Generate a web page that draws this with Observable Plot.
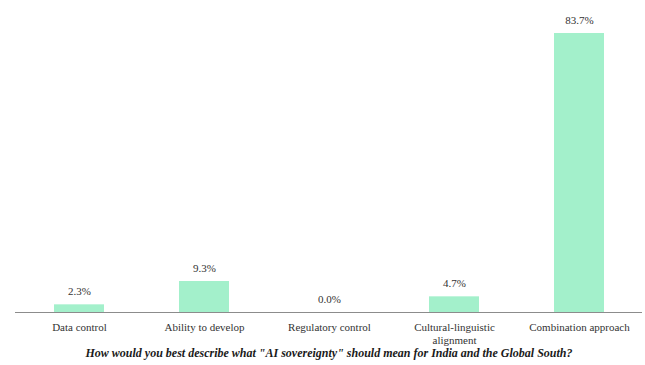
<!DOCTYPE html>
<html>
<head>
<meta charset="utf-8">
<script src="https://cdn.jsdelivr.net/npm/d3@7"></script>
<script src="https://cdn.jsdelivr.net/npm/@observablehq/plot@0.6"></script>
<style>
  html, body { margin: 0; padding: 0; background: #fff; }
  #chart svg { display: block; font-family: "Liberation Serif", "Times New Roman", serif; }
</style>
</head>
<body>
<div id="chart"></div>
<script>
// Survey responses: share of respondents per definition of "AI sovereignty"
const categories = [
  "Data control",
  "Ability to develop",
  "Regulatory control",
  "Cultural-linguistic alignment",
  "Combination approach"
];
const tickLabels = [
  "Data control",
  "Ability to develop",
  "Regulatory control",
  "Cultural-linguistic\nalignment",
  "Combination approach"
];
const shares = [2.3, 9.3, 0.0, 4.7, 83.7];
const question = "How would you best describe what \"AI sovereignty\" should mean for India and the Global South?";

const rows = categories.map((c, i) => ({category: c, share: shares[i]}));
const labelOf = new Map(categories.map((c, i) => [c, tickLabels[i]]));

const serif = "Liberation Serif, Times New Roman, serif";
const barColor = "#a3f0cb";
const ink = "#333333";

const chart = Plot.plot({
  width: 645,
  height: 365,
  marginLeft: 15,
  marginRight: 3,
  marginTop: 33,
  marginBottom: 53,
  x: {domain: categories, paddingInner: 0.6, paddingOuter: 0.3, label: null},
  y: {domain: [0, 83.7], axis: null},
  marks: [
    Plot.barY(rows, {x: "category", y: "share", fill: barColor}),
    Plot.ruleY([0], {stroke: "#8c8c8c", strokeWidth: 1}),
    Plot.text(rows, {
      x: "category",
      y: "share",
      text: d => d.share.toFixed(1) + "%",
      dy: -13,
      fontSize: 11,
      fontFamily: serif,
      fill: ink
    }),
    Plot.axisX({
      tickSize: 0,
      tickPadding: 10,
      fontSize: 11,
      fontFamily: serif,
      lineHeight: 1.15,
      fill: ink,
      tickFormat: d => labelOf.get(d),
      label: null
    }),
    Plot.text([question], {
      frameAnchor: "bottom",
      dy: 44,
      fontSize: 12,
      fontFamily: serif,
      fontStyle: "italic",
      fontWeight: "bold",
      fill: "#1a1a1a"
    })
  ]
});

chart.style.fontFamily = serif;
chart.style.background = "#ffffff";
document.getElementById("chart").append(chart);
</script>
</body>
</html>
